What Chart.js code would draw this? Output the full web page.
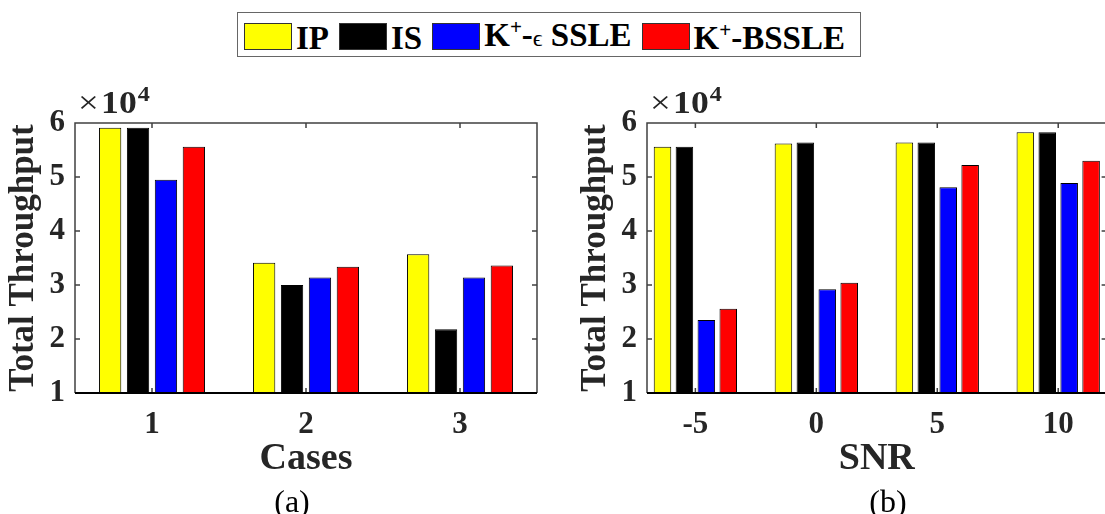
<!DOCTYPE html>
<html>
<head>
<meta charset="utf-8">
<script src="https://cdn.jsdelivr.net/npm/chart.js@4.4.0/dist/chart.umd.min.js"></script>
<style>
  html, body { margin: 0; padding: 0; background: #fff; overflow: hidden; }
  body { width: 1105px; height: 514px; position: relative; font-family: "Liberation Serif", "Times New Roman", serif; }
  canvas { position: absolute; top: 0; }
  #legend {
    position: absolute; left: 237px; top: 12px; width: 624px; height: 45px;
    box-sizing: border-box; border: 1px solid #666; background: #fff;
    display: flex; align-items: flex-end; padding: 0 0 6px 6px;
    font: bold 33px "Liberation Serif", serif; color: #000;
  }
  .item { display: flex; align-items: flex-end; margin-right: 10px; }
  .swatch { width: 48px; height: 27px; box-sizing: border-box; border: 1px solid #333; margin-right: 4px; }
  .label { line-height: 33px; margin-bottom: -5px; white-space: nowrap; }
  .label sup { font-size: 21px; line-height: 0; vertical-align: 12px; }
  .eps { font-size: 24px; font-weight: normal; }
  .caption { position: absolute; top: 485px; width: 100px; text-align: center; font: 32px/32px "Liberation Serif", serif; color: #000; }
</style>
</head>
<body>
<canvas id="cases" width="550" height="514" style="left:0"></canvas>
<canvas id="snr" width="560" height="514" style="left:572px"></canvas>
<div class="caption" style="left:242px">(a)</div>
<div class="caption" style="left:838px">(b)</div>
<div id="legend"></div>
<script>
const cases = ["1", "2", "3"];
const snr = ["-5", "0", "5", "10"];
const seriesNames = ["IP", "IS", "K+-ϵ SSLE", "K+-BSSLE"];
const seriesColors = ["#ffff00", "#000000", "#0000ff", "#ff0000"];

// total throughput for each case
const ipCases = [59100, 34100, 35700];
const isCases = [59100, 30000, 21800];
const epsCases = [49500, 31400, 31400];
const bssleCases = [55600, 33400, 33600];

// total throughput against SNR
const ipSnr = [55600, 56200, 56400, 58300];
const isSnr = [55600, 56400, 56400, 58300];
const epsSnr = [23500, 29200, 48100, 48900];
const bssleSnr = [25600, 30400, 52200, 53000];

const yMin = 10000;
const yMax = 60000;
const yStep = 10000;

const axisColor = "#262626";
const serif = "'Liberation Serif', 'Times New Roman', serif";

// shared legend above both panels
const legend = document.getElementById("legend");
seriesNames.forEach((name, i) => {
  const item = document.createElement("div");
  item.className = "item";
  const sw = document.createElement("span");
  sw.className = "swatch";
  sw.style.background = seriesColors[i];
  const txt = document.createElement("span");
  txt.className = "label";
  txt.innerHTML = name
    .replace("+", "<sup>+</sup>")
    .replace("ϵ", '<span class="eps">ϵ</span>');
  item.append(sw, txt);
  legend.append(item);
});

// box, inward ticks and the x10^4 multiplier, matlab style
const framePlugin = {
  id: "frame",
  beforeDatasetsDraw(chart) {
    const { ctx, chartArea: a, scales } = chart;
    const x = scales.x, y = scales.y;
    ctx.save();
    ctx.strokeStyle = "#404040";
    ctx.lineWidth = 1.5;
    ctx.beginPath();
    ctx.moveTo(a.left, a.bottom);
    ctx.lineTo(a.left, a.top);
    ctx.lineTo(a.right, a.top);
    ctx.lineTo(a.right, a.bottom);
    x.ticks.forEach((t) => {
      const px = x.getPixelForValue(t.value);
      ctx.moveTo(px, a.top);
      ctx.lineTo(px, a.top + 5);
      ctx.moveTo(px, a.bottom);
      ctx.lineTo(px, a.bottom - 5);
    });
    y.ticks.forEach((t) => {
      const py = y.getPixelForValue(t.value);
      ctx.moveTo(a.left, py);
      ctx.lineTo(a.left + 5, py);
      ctx.moveTo(a.right, py);
      ctx.lineTo(a.right - 5, py);
    });
    ctx.stroke();
    ctx.restore();
  },
  afterDatasetsDraw(chart) {
    const { ctx, chartArea: a } = chart;
    ctx.save();
    ctx.strokeStyle = "#000";
    ctx.lineWidth = 2;
    ctx.beginPath();
    ctx.moveTo(a.left, a.bottom);
    ctx.lineTo(a.right, a.bottom);
    ctx.stroke();
    ctx.restore();
  },
  afterDraw(chart) {
    const { ctx, chartArea: a } = chart;
    ctx.save();
    ctx.fillStyle = axisColor;
    ctx.textBaseline = "alphabetic";
    ctx.translate(a.left + 3, a.top - 10);
    ctx.scale(1.15, 1);
    let cx = 0;
    ctx.font = "32px " + serif;
    ctx.fillText("×", cx, 0);
    cx += ctx.measureText("×").width + 2;
    ctx.font = "bold 31px " + serif;
    ctx.fillText("10", cx, 0);
    cx += ctx.measureText("10").width + 1;
    ctx.font = "bold 21px " + serif;
    ctx.fillText("4", cx, -12);
    ctx.restore();
  },
};

function makeChart(id, labels, series, xTitle, xMin, xMax, padRight) {
  return new Chart(document.getElementById(id), {
    type: "bar",
    data: {
      datasets: series.map((vals, i) => ({
        label: seriesNames[i],
        data: vals.map((v, j) => ({ x: j, y: v })),
        backgroundColor: seriesColors[i],
        borderColor: "#000",
        borderWidth: 1,
        categoryPercentage: 0.725,
        barPercentage: 0.8,
      })),
    },
    options: {
      responsive: false,
      animation: false,
      layout: { padding: { top: 123, right: padRight, left: 0, bottom: 0 } },
      plugins: { legend: { display: false }, tooltip: { enabled: false } },
      scales: {
        x: {
          type: "linear",
          min: xMin,
          max: xMax,
          offset: false,
          grid: { display: false, drawTicks: false },
          border: { display: false },
          afterBuildTicks: (s) => {
            s.ticks = labels.map((_, i) => ({ value: i }));
          },
          afterFit: (s) => {
            s.height = 121;
          },
          ticks: {
            callback: (v, i) => labels[i],
            padding: 13,
            color: axisColor,
            font: { family: serif, size: 31, weight: "bold" },
          },
          title: {
            display: true,
            text: xTitle,
            color: axisColor,
            font: { family: serif, size: 38, weight: "bold" },
            padding: { top: 0, bottom: 32 },
          },
        },
        y: {
          min: yMin,
          max: yMax,
          grid: { display: false, drawTicks: false },
          border: { display: false },
          afterFit: (s) => {
            s.width = 75;
          },
          ticks: {
            stepSize: yStep,
            callback: (v) => v / 10000,
            padding: 10,
            color: axisColor,
            font: { family: serif, size: 31, weight: "bold" },
          },
          title: {
            display: true,
            text: "Total Throughput",
            color: axisColor,
            font: { family: serif, size: 35, weight: "bold" },
            padding: { top: 3, bottom: 0 },
          },
        },
      },
    },
    plugins: [framePlugin],
  });
}

makeChart("cases", cases, [ipCases, isCases, epsCases, bssleCases], "Cases", -0.5, 2.5, 13);
makeChart("snr", snr, [ipSnr, isSnr, epsSnr, bssleSnr], "SNR", -0.4, 3.4, 25.4);
</script>
</body>
</html>
